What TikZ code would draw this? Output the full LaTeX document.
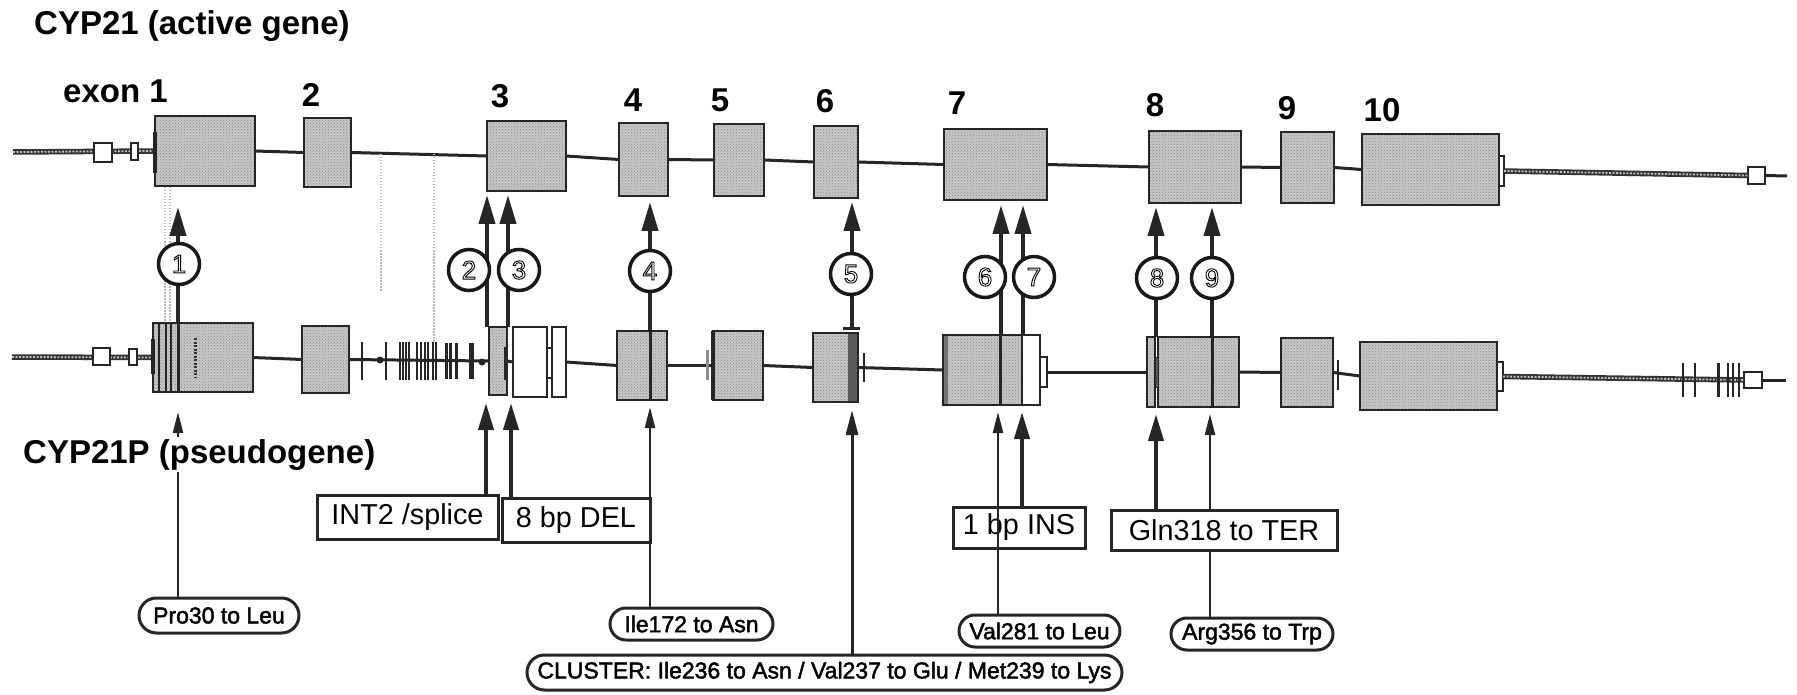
\documentclass[tikz,border=0pt]{standalone}
\usepackage{fontspec}
\setmainfont{Liberation Sans}
\usetikzlibrary{arrows.meta,shapes.misc,patterns}
\newcommand\outl[1]{\special{pdf:code 1 Tr 0.9 w}#1\special{pdf:code 0 Tr}}
\newcommand\embf[1]{\special{pdf:code 2 Tr 0.45 w}#1\special{pdf:code 0 Tr}}
\newcommand\rb[6]{\node[#2, minimum width={#5-#3}, minimum height={#6-#4}] (#1) at ({(#3+#5)/2},{(#4+#6)/2}) {};}
\tikzset{
  ex/.style={rectangle, draw=black!85, line width=2.5pt, preaction={fill=black!22}, pattern=crosshatch dots, pattern color=black!45, inner sep=0pt, outer sep=0pt},
  wb/.style={rectangle, draw=black!85, line width=1.8pt, fill=white, inner sep=0pt, outer sep=0pt},
  db/.style={rectangle, draw=black!85, line width=1pt, fill=black!65, inner sep=0pt, outer sep=0pt},
  intr/.style={line width=3pt, draw=black!85},
  flank/.style={line width=5.5pt, draw=black!80, postaction={draw=black!25, line width=1.8pt, dash pattern=on 2pt off 1.5pt}},
  tk/.style={line width=1.6pt, draw=black!85},
  dotl/.style={line width=1.3pt, draw=black!28, dash pattern=on 1.5pt off 1.5pt},
  hd/.style={font=\fontsize{33}{36}\selectfont\bfseries, inner sep=0pt},
  circ/.style={circle, draw=black!90, line width=3.5pt, fill=white, minimum size=41pt, inner sep=0pt, font=\fontsize{26}{26}\selectfont},
  uparr/.style={line width=4pt, draw=black!85, -{Triangle[length=29pt,width=16pt]}},
  tkarr/.style={line width=4pt, draw=black!85, -{Triangle[length=27pt,width=15pt]}},
  mdarr/.style={line width=3pt, draw=black!85, -{Triangle[length=25pt,width=12pt]}},
  tnarr/.style={line width=2.2pt, draw=black!85, -{Triangle[length=21pt,width=10pt]}},
  lb/.style={rectangle, draw=black!85, line width=3pt, fill=white, inner sep=0pt, font=\fontsize{28.8}{30}\selectfont},
  pil/.style={rounded rectangle, draw=black!85, line width=3pt, fill=white, inner sep=0pt, font=\fontsize{23}{24}\selectfont},
}
\begin{document}
\begin{tikzpicture}[x=1pt,y=-1pt]
\useasboundingbox (0,0) rectangle (1797,695);
\fill[white] (0,0) rectangle (1797,695);

% ---------- headings ----------
\node[hd, anchor=base west] (title) at (34,35) {CYP21 (active gene)};
\node[hd, anchor=base west] (ex1) at (63,103) {exon 1};
\foreach \n/\x/\y in {2/311/107,3/500/108,4/633/112,5/720/112,6/825/113,7/957/115,8/1155/117,9/1287/120,10/1382/122}
  \node[hd, anchor=base] (lab\n) at (\x,\y) {\n};

% ---------- active gene row ----------
\rb{T1}{ex}{155}{116}{255}{186}
\rb{T2}{ex}{304}{118}{351}{187}
\rb{T3}{ex}{487}{121}{566}{191}
\rb{T4}{ex}{619}{123}{668}{196}
\rb{T5}{ex}{714}{124}{764}{196}
\rb{T6}{ex}{814}{126}{858}{198}
\rb{T7}{ex}{944}{129}{1047}{200}
\rb{T8}{ex}{1149}{131}{1241}{203}
\rb{T9}{ex}{1281}{132}{1334}{203}
\rb{T10}{ex}{1362}{134}{1499}{205}
\rb{T10t}{wb}{1499}{156}{1504}{186}
\rb{TW3}{wb}{1748}{167}{1765}{184}
\coordinate (TL) at (13,152);
\coordinate (TR) at (1787,176);
\draw[flank] (TL) -- (T1.west);
\rb{TW1}{wb}{94}{143}{112}{162}
\rb{TW2}{wb}{131}{143}{138}{160}
\draw[line width=4pt, black!85] (155,132) -- (155,173);
\draw[intr] (T1.east) -- (T2.west);
\draw[intr] (T2.east) -- (T3.west);
\draw[intr] (T3.east) -- (T4.west);
\draw[intr] (T4.east) -- (T5.west);
\draw[intr] (T5.east) -- (T6.west);
\draw[intr] (T6.east) -- (T7.west);
\draw[intr] (T7.east) -- (T8.west);
\draw[intr] (T8.east) -- (T9.west);
\draw[intr] (T9.east) -- (T10.west);
\draw[flank] (T10t.east) -- (TW3.west);
\draw[intr] (TW3.east) -- (TR);

% ---------- pseudogene row ----------
\rb{P1}{ex}{153}{323}{253}{392}
\rb{P2}{ex}{302}{326}{349}{393}
\rb{P3a}{ex}{489}{327}{507}{395}
\rb{P3b}{wb}{513}{327}{547}{397}
\rb{P3c}{wb}{552}{327}{566}{397}
\rb{P4}{ex}{617}{331}{667}{400}
\rb{P5}{ex}{713}{331}{763}{400}
\rb{P6}{ex}{813}{333}{858}{402}
\rb{P7}{ex}{943}{335}{1022}{405}
\rb{P7w}{wb}{1022}{335}{1040}{405}
\rb{P7t}{wb}{1040}{357}{1047}{387}
\rb{P8a}{ex}{1147}{337}{1155}{407}
\rb{P8}{ex}{1158}{337}{1239}{407}
\rb{P9}{ex}{1281}{338}{1333}{407}
\rb{P10}{ex}{1360}{342}{1497}{410}
\rb{P10t}{wb}{1497}{362}{1503}{391}
\rb{PW3}{wb}{1744}{372}{1762}{388}
\coordinate (PL) at (12,357);
\coordinate (PR) at (1786,380);
\draw[flank] (PL) -- (P1.west);
\rb{PW1}{wb}{93}{348}{110}{365}
\rb{PW2}{wb}{129}{349}{137}{365}
\draw[line width=4pt, black!85] (153,339) -- (153,374);
\draw[intr] (P1.east) -- (P2.west);
\draw[intr] (P2.east) -- (P3a.west);
\draw[intr] (P3a.east) -- (P3b.west);
\draw[intr] (P3b.east) -- (P3c.west);
\draw[intr] (P3c.east) -- (P4.west);
\draw[intr] (P4.east) -- (P5.west);
\draw[intr] (P5.east) -- (P6.west);
\draw[intr] (P6.east) -- (P7.west);
\draw[intr] (P7t.east) -- (P8a.west);
\draw[intr] (P8a.east) -- (P8.west);
\draw[intr] (P8.east) -- (P9.west);
\draw[intr] (P9.east) -- (P10.west);
\draw[flank] (P10t.east) -- (PW3.west);
\draw[intr] (PW3.east) -- (PR);
\rb{P3s}{wb}{547}{348}{552}{378}
\rb{P8t}{db}{1155}{357}{1158}{387}

% mutation marks inside pseudo exons
\foreach \x in {159,166,171} \draw[tk] (\x,324) -- (\x,391);
\draw[line width=3pt, black!85] (178,324) -- (178,391);
\draw[line width=3pt, black!80, dash pattern=on 2pt off 1.5pt] (195,338) -- (195,377);
\draw[line width=2.2pt, black!85] (505,347) -- (505,380);
\draw[line width=3pt, black!85] (650,332) -- (650,399);
\draw[line width=3.5pt, black!85] (713,331) -- (713,400);
\draw[line width=3pt, black!45] (707,350) -- (707,380);
\fill[black!65] (848,334) rectangle (857,401);
\draw[line width=3pt, black!85] (843,328) -- (860,328);
\draw[tk] (864,353) -- (864,382);
\fill[black!55] (944,336) rectangle (948,404);
\draw[line width=3pt, black!85] (1000,336) -- (1000,404);
\draw[line width=3pt, black!85] (1212,338) -- (1212,406);
\draw[tk] (1338,360) -- (1338,390);
% intron 2 marks
\foreach \x in {362,386,400,403,406,409,417,421,425,433,436}
  \draw[tk] (\x,342) -- (\x,380);
\draw[line width=2.5pt, black!85] (428,342) -- (428,380);
\foreach \x in {446,450,456} \draw[line width=3pt, black!85] (\x,343) -- (\x,379);
\draw[line width=5pt, black!85] (471,343) -- (471,379);
\fill[black!85] (380,360) circle (3.5);
\fill[black!85] (482,362) circle (3.5);
% 3' flank marks
\foreach \x in {1683,1695,1728,1733,1739} \draw[tk] (\x,363) -- (\x,397);
\draw[line width=3pt, black!85] (1718,363) -- (1718,397);

% dotted alignment guides
\draw[dotl] (165,118) -- (165,322);
\draw[dotl] (170,118) -- (170,322);
\draw[dotl] (381,154) -- (381,292);
\draw[dotl] (434,154) -- (434,343);

% ---------- upper arrows with numbered circles ----------
\coordinate (a1) at (178,207);
\coordinate (a2) at (487,195);
\coordinate (a3) at (508,195);
\coordinate (a4) at (650,202);
\coordinate (a5) at (852,202);
\coordinate (a6) at (1001,205);
\coordinate (a7) at (1023,205);
\coordinate (a8) at (1156,207);
\coordinate (a9) at (1212,207);
\coordinate (tbar) at (852,328);
\draw[uparr] (P1.north -| a1) -- (a1);
\draw[uparr] (P3a.north -| a2) -- (a2);
\draw[uparr] (P3a.north -| a3) -- (a3);
\draw[uparr] (P4.north -| a4) -- (a4);
\draw[uparr] (tbar) -- (a5);
\draw[uparr] (P7.north -| a6) -- (a6);
\draw[uparr] (P7.north -| a7) -- (a7);
\draw[uparr] (P8.north -| a8) -- (a8);
\draw[uparr] (P8.north -| a9) -- (a9);
\node[circ] (c1) at (179,264) {\outl{1}};
\node[circ] (c2) at (469,270) {\outl{2}};
\node[circ] (c3) at (519,270) {\outl{3}};
\node[circ] (c4) at (650,271) {\outl{4}};
\node[circ] (c5) at (851,274) {\outl{5}};
\node[circ] (c6) at (985,277) {\outl{6}};
\node[circ] (c7) at (1034,277) {\outl{7}};
\node[circ] (c8) at (1157,278) {\outl{8}};
\node[circ] (c9) at (1212,278) {\outl{9}};

% ---------- mutation labels ----------
\node[pil, minimum width=160pt, minimum height=35pt] (ppro) at (219,615.5) {\embf{Pro30 to Leu}};
\node[pil, minimum width=163pt, minimum height=32pt] (pile) at (691.5,624) {\embf{Ile172 to Asn}};
\node[pil, minimum width=595pt, minimum height=35pt] (pclu) at (824.5,672.5) {\embf{CLUSTER: Ile236 to Asn / Val237 to Glu / Met239 to Lys}};
\node[pil, minimum width=161pt, minimum height=32pt] (pval) at (1039.5,631) {\embf{Val281 to Leu}};
\node[pil, minimum width=162pt, minimum height=32pt] (parg) at (1252,634) {\embf{Arg356 to Trp}};

\coordinate (d1) at (178,412);
\coordinate (d2) at (486,403);
\coordinate (d3) at (511,403);
\coordinate (d4) at (650,407);
\coordinate (d5) at (852,410);
\coordinate (d6) at (998,412);
\coordinate (d7) at (1022,412);
\coordinate (d8) at (1156,414);
\coordinate (d9) at (1210,414);

\draw[tnarr] (d1 |- ppro.north) -- (d1);
\node[hd, anchor=base west, fill=white, inner sep=2pt] (pseudo) at (21,463) {CYP21P (pseudogene)};
\draw[tnarr] (d9 |- parg.north) -- (d9);
\draw[tnarr] (d4 |- pile.north) -- (d4);
\draw[mdarr] (d5 |- pclu.north) -- (d5);

\node[lb, minimum width=181pt, minimum height=44pt] (bint) at (407.5,517) {INT2 /splice};
\node[lb, minimum width=148pt, minimum height=44pt] (bdel) at (576,520) {8 bp DEL};
\node[lb, minimum width=132pt, minimum height=41pt] (bins) at (1019,527.5) {1 bp INS};
\node[lb, minimum width=226pt, minimum height=40pt] (bgln) at (1224,530) {Gln318 to TER};

\draw[tkarr] (d2 |- bint.north) -- (d2);
\draw[tkarr] (d3 |- bdel.north) -- (d3);
\draw[tnarr] (d6 |- pval.north) -- (d6);
\draw[tkarr] (d7 |- bins.north) -- (d7);
\draw[tkarr] (d8 |- bgln.north) -- (d8);
\end{tikzpicture}
\end{document}
